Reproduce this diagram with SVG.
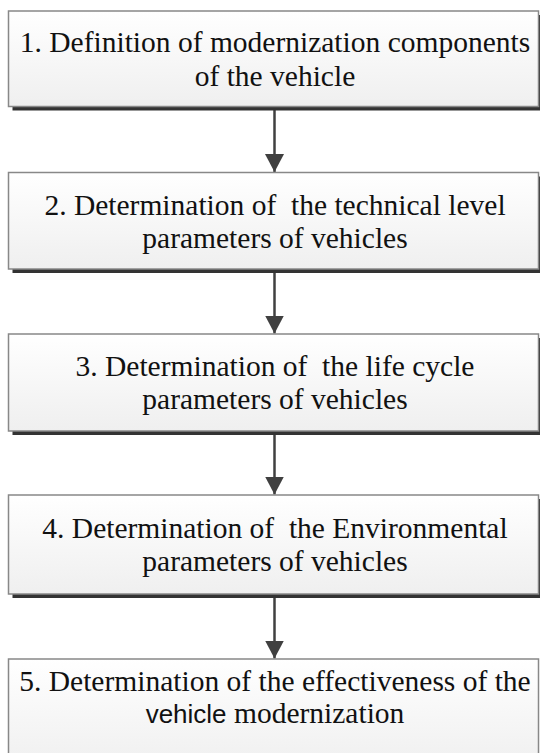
<svg xmlns="http://www.w3.org/2000/svg" width="540" height="753" viewBox="0 0 540 753">
<defs>
<linearGradient id="g" x1="0" y1="0" x2="0" y2="1">
<stop offset="0" stop-color="#ffffff"/>
<stop offset="1" stop-color="#efefef"/>
</linearGradient>
<marker id="ah" markerWidth="19" markerHeight="19" viewBox="0 0 19 19" refX="18" refY="9.5" orient="auto" markerUnits="userSpaceOnUse">
<path d="M0,0 L18,9.5 L0,19 Z" fill="#404040"/>
</marker>
</defs>
<style>
.sh{fill:#333333}
.bx{fill:url(#g);stroke:#888888;stroke-width:1.5}
.t{font-family:"Liberation Serif","Times New Roman",serif;font-size:29.5px;fill:#111111;text-anchor:middle;white-space:pre}
.s{font-family:"Liberation Sans",Arial,sans-serif;font-size:26px}
.c{stroke:#404040;stroke-width:2.5;fill:none}
</style>
<rect width="540" height="753" fill="#ffffff"/>
<g id="connectors">
<line class="c" x1="274.5" y1="110" x2="274.5" y2="172" marker-end="url(#ah)"/>
<line class="c" x1="274.5" y1="273" x2="274.5" y2="333.5" marker-end="url(#ah)"/>
<line class="c" x1="274.5" y1="435" x2="274.5" y2="494.5" marker-end="url(#ah)"/>
<line class="c" x1="274.5" y1="598" x2="274.5" y2="658.5" marker-end="url(#ah)"/>
</g>
<g id="n1">
<rect class="sh" x="12.5" y="15" width="530" height="95.5"/>
<rect class="bx" x="8.5" y="11" width="530" height="95.5"/>
<text class="t" x="275" y="52">1. Definition of modernization components</text>
<text class="t" x="275" y="86">of the vehicle</text>
</g>
<g id="n2">
<rect class="sh" x="12.5" y="176.5" width="530" height="96.5"/>
<rect class="bx" x="8.5" y="172.5" width="530" height="96.5"/>
<text class="t" x="275" y="214.5">2. Determination of  the technical level</text>
<text class="t" x="275" y="247.5">parameters of vehicles</text>
</g>
<g id="n3">
<rect class="sh" x="12.5" y="338" width="530" height="97"/>
<rect class="bx" x="8.5" y="334" width="530" height="97"/>
<text class="t" x="275" y="376">3. Determination of  the life cycle</text>
<text class="t" x="275" y="409">parameters of vehicles</text>
</g>
<g id="n4">
<rect class="sh" x="12.5" y="499" width="530" height="99"/>
<rect class="bx" x="8.5" y="495" width="530" height="99"/>
<text class="t" x="275" y="538">4. Determination of  the Environmental</text>
<text class="t" x="275" y="571">parameters of vehicles</text>
</g>
<g id="n5">
<rect class="bx" x="8.5" y="659" width="530" height="110"/>
<text class="t" x="275" y="691">5. Determination of the effectiveness of the</text>
<text class="t" x="275" y="723"><tspan class="s">vehicle</tspan> modernization</text>
</g>
</svg>
